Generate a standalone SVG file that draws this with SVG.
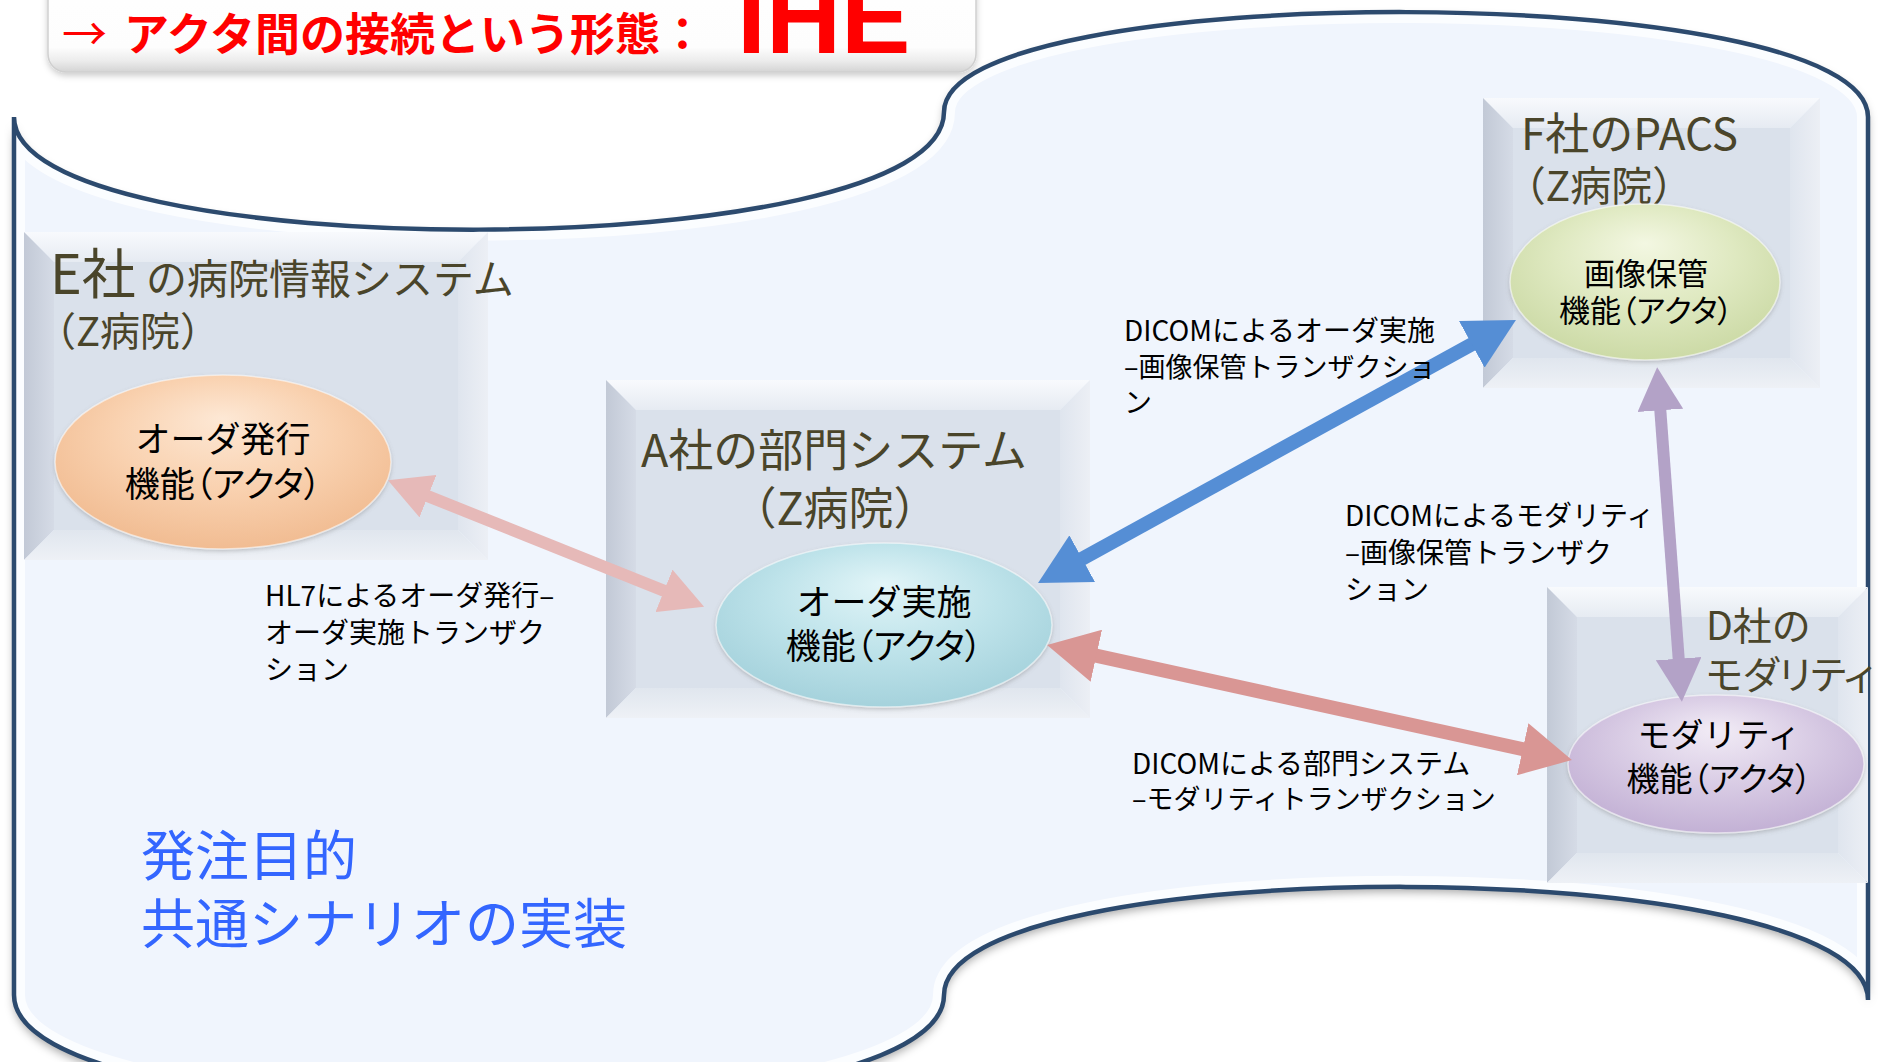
<svg xmlns="http://www.w3.org/2000/svg" width="1894" height="1062" viewBox="0 0 1894 1062">
<style>
.jp{font-family:"Noto Sans CJK JP","Noto Sans",sans-serif}
.pa{font-feature-settings:"palt" 1}
.ttl{fill:#4A452A}
.act{fill:#000000;text-anchor:middle}
.lbl{fill:#000000;font-size:28px}
.blue{fill:#3366FF;font-size:54px}
.bt{fill:url(#gTop)}
.bl{fill:url(#gLeft)}
.br{fill:url(#gRight)}
.bb{fill:url(#gBot)}
.bf{fill:#DAE1EB}
.ell{stroke:#FFFFFF;stroke-opacity:0.55;stroke-width:1.5;filter:url(#eshadow)}
.cn{fill:none;stroke-linecap:butt}
</style>
<defs>
<linearGradient id="gTop" x1="0" y1="0" x2="0" y2="1"><stop offset="0" stop-color="#F8FAFD"/><stop offset="1" stop-color="#E6EBF2"/></linearGradient>
<linearGradient id="gLeft" x1="0" y1="0" x2="1" y2="0"><stop offset="0" stop-color="#C2C9D6"/><stop offset="1" stop-color="#D5DBE6"/></linearGradient>
<linearGradient id="gRight" x1="0" y1="0" x2="1" y2="0"><stop offset="0" stop-color="#DFE5EE"/><stop offset="1" stop-color="#ECEFF5"/></linearGradient>
<linearGradient id="gBot" x1="0" y1="0" x2="0" y2="1"><stop offset="0" stop-color="#E0E6EE"/><stop offset="1" stop-color="#EEF1F6"/></linearGradient>
<linearGradient id="gTitle" x1="0" y1="0" x2="0" y2="1"><stop offset="0" stop-color="#FFFFFF"/><stop offset="0.78" stop-color="#FDFDFD"/><stop offset="0.9" stop-color="#ECECEC"/><stop offset="1" stop-color="#D4D4D4"/></linearGradient>
<radialGradient id="gPeach" cx="0.5" cy="0.4" r="0.6" fx="0.5" fy="0.25"><stop offset="0" stop-color="#FDE8D5"/><stop offset="0.55" stop-color="#F9D1AF"/><stop offset="1" stop-color="#F1BC92"/></radialGradient>
<radialGradient id="gCyan" cx="0.5" cy="0.4" r="0.6" fx="0.5" fy="0.25"><stop offset="0" stop-color="#E2F5F8"/><stop offset="0.55" stop-color="#BEE3EA"/><stop offset="1" stop-color="#A5D2DC"/></radialGradient>
<radialGradient id="gGreen" cx="0.5" cy="0.4" r="0.6" fx="0.5" fy="0.25"><stop offset="0" stop-color="#F3F7E2"/><stop offset="0.55" stop-color="#DFE9C1"/><stop offset="1" stop-color="#CCDAA6"/></radialGradient>
<radialGradient id="gLav" cx="0.5" cy="0.4" r="0.6" fx="0.5" fy="0.25"><stop offset="0" stop-color="#F2ECF6"/><stop offset="0.55" stop-color="#D8CBE4"/><stop offset="1" stop-color="#C3B1D5"/></radialGradient>
<filter id="shshadow" x="-5%" y="-5%" width="110%" height="115%"><feDropShadow dx="0" dy="5" stdDeviation="5" flood-color="#000000" flood-opacity="0.35"/></filter>
<filter id="eshadow" x="-10%" y="-10%" width="120%" height="130%"><feDropShadow dx="0" dy="2" stdDeviation="2" flood-color="#6A6A6A" flood-opacity="0.35"/></filter>
<filter id="tshadow" x="-5%" y="-20%" width="110%" height="140%"><feDropShadow dx="0" dy="3" stdDeviation="3" flood-color="#000000" flood-opacity="0.2"/></filter>
<clipPath id="shapeClip"><path d="M14,117 C14,268 944,268 944,112 C944,-22 1868,-22 1868,117 L1868,1000 C1868,850 944,850 944,995 C944,1145 14,1145 14,995 Z"/></clipPath>
<marker id="ahPink" viewBox="0 0 10 10" refX="1" refY="5" markerWidth="3.6" markerHeight="3.8" orient="auto-start-reverse" preserveAspectRatio="none"><path d="M0,0 L10,5 L0,10 Z" fill="#E6B9B8"/></marker>
<marker id="ahBlue" viewBox="0 0 10 10" refX="1" refY="5" markerWidth="3.6" markerHeight="3.8" orient="auto-start-reverse" preserveAspectRatio="none"><path d="M0,0 L10,5 L0,10 Z" fill="#558ED5"/></marker>
<marker id="ahPurple" viewBox="0 0 10 10" refX="1" refY="5" markerWidth="3.6" markerHeight="3.8" orient="auto-start-reverse" preserveAspectRatio="none"><path d="M0,0 L10,5 L0,10 Z" fill="#B3A2C7"/></marker>
<marker id="ahSalmon" viewBox="0 0 10 10" refX="1" refY="5" markerWidth="3.6" markerHeight="3.8" orient="auto-start-reverse" preserveAspectRatio="none"><path d="M0,0 L10,5 L0,10 Z" fill="#D99694"/></marker>
</defs>

<rect x="0" y="0" width="1894" height="1062" fill="#FFFFFF"/>

<g id="wave-background">
<path d="M14,117 C14,268 944,268 944,112 C944,-22 1868,-22 1868,117 L1868,1000 C1868,850 944,850 944,995 C944,1145 14,1145 14,995 Z" fill="#F0F5FD" filter="url(#shshadow)"/>
<path d="M14,117 C14,268 944,268 944,112 C944,-22 1868,-22 1868,117 L1868,1000 C1868,850 944,850 944,995 C944,1145 14,1145 14,995 Z" fill="none" stroke="#FFFFFF" stroke-width="22" stroke-opacity="0.75" clip-path="url(#shapeClip)"/>
<path d="M14,117 C14,268 944,268 944,112 C944,-22 1868,-22 1868,117 L1868,1000 C1868,850 944,850 944,995 C944,1145 14,1145 14,995 Z" fill="none" stroke="#2C4A6E" stroke-width="4.5"/>
</g>

<g id="title">
<rect x="48" y="-40" width="928" height="112" rx="18" fill="url(#gTitle)" stroke="#CFCFCF" stroke-width="1.5" filter="url(#tshadow)"/>
<text class="jp" fill="#FF0000" font-size="45" y="51"><tspan x="62">→</tspan><tspan x="124" font-weight="bold">アクタ間の接続という形態：</tspan></text>
<text fill="#FF0000" font-family="Liberation Sans, Arial, sans-serif" font-weight="bold" font-size="104" x="737" y="53">IHE</text>
</g>

<g id="node-e-hospital-system">
<polygon class="bt" points="24,232 488,232 458,262 54,262"/>
<polygon class="bl" points="24,232 54,262 54,530 24,560"/>
<polygon class="br" points="488,232 488,560 458,530 458,262"/>
<polygon class="bb" points="24,560 54,530 458,530 488,560"/>
<rect class="bf" x="54" y="262" width="404" height="268"/>
<text class="jp ttl" y="294"><tspan x="50" font-size="54">E社</tspan><tspan x="146" font-size="41">の病院情報システム</tspan></text>
<text class="jp ttl" font-size="40" x="128" y="346" text-anchor="middle">（Z病院）</text>
<g id="actor-order-placer">
<ellipse class="ell" cx="223" cy="462" rx="168" ry="87" fill="url(#gPeach)"/>
<text class="jp act" font-size="35" x="223" y="452">オーダ発行</text>
<text class="jp act pa" font-size="35" x="223" y="497">機能（アクタ）</text>
</g>
</g>

<g id="node-a-department-system">
<polygon class="bt" points="606,380 1090,380 1060,410 636,410"/>
<polygon class="bl" points="606,380 636,410 636,688 606,718"/>
<polygon class="br" points="1090,380 1090,718 1060,688 1060,410"/>
<polygon class="bb" points="606,718 636,688 1060,688 1090,718"/>
<rect class="bf" x="636" y="410" width="424" height="278"/>
<text class="jp ttl" font-size="45" x="834" y="467" text-anchor="middle">A社の部門システム</text>
<text class="jp ttl" font-size="45" x="835" y="525" text-anchor="middle">（Z病院）</text>
<g id="actor-order-filler">
<ellipse class="ell" cx="884" cy="625" rx="168" ry="82" fill="url(#gCyan)"/>
<text class="jp act" font-size="35" x="884" y="615">オーダ実施</text>
<text class="jp act pa" font-size="35" x="884" y="659">機能（アクタ）</text>
</g>
</g>

<g id="node-f-pacs">
<polygon class="bt" points="1483,98 1820,98 1790,128 1513,128"/>
<polygon class="bl" points="1483,98 1513,128 1513,358 1483,388"/>
<polygon class="br" points="1820,98 1820,388 1790,358 1790,128"/>
<polygon class="bb" points="1483,388 1513,358 1790,358 1820,388"/>
<rect class="bf" x="1513" y="128" width="277" height="230"/>
<text class="jp ttl" font-size="44" x="1521" y="150">F社のPACS</text>
<text class="jp ttl" font-size="41" x="1599" y="201" text-anchor="middle">（Z病院）</text>
<g id="actor-image-archive">
<ellipse class="ell" cx="1645" cy="282" rx="135" ry="78" fill="url(#gGreen)"/>
<text class="jp act" font-size="31" x="1646" y="285">画像保管</text>
<text class="jp act pa" font-size="31" x="1646" y="322">機能（アクタ）</text>
</g>
</g>

<g id="node-d-modality">
<polygon class="bt" points="1547,587 1868,587 1838,617 1577,617"/>
<polygon class="bl" points="1547,587 1577,617 1577,853 1547,883"/>
<polygon class="br" points="1868,587 1868,883 1838,853 1838,617"/>
<polygon class="bb" points="1547,883 1577,853 1838,853 1868,883"/>
<rect class="bf" x="1577" y="617" width="261" height="236"/>
<text class="jp ttl" font-size="39" x="1706" y="640">D社の</text>
<text class="jp ttl pa" font-size="39" x="1706" y="689">モダリティ</text>
<g id="actor-modality">
<ellipse class="ell" cx="1716" cy="764" rx="148" ry="69" fill="url(#gLav)"/>
<text class="jp act" font-size="33" x="1719" y="747">モダリティ</text>
<text class="jp act pa" font-size="33" x="1719" y="791">機能（アクタ）</text>
</g>
</g>

<g id="connectors">
<line class="cn" x1="424" y1="494.6" x2="668" y2="592.4" stroke="#E6B9B8" stroke-width="12" marker-start="url(#ahPink)" marker-end="url(#ahPink)"/>
<line class="cn" x1="1077.8" y1="561.1" x2="1476.2" y2="341.9" stroke="#558ED5" stroke-width="14" marker-start="url(#ahBlue)" marker-end="url(#ahBlue)"/>
<line class="cn" x1="1660" y1="406" x2="1679" y2="663" stroke="#B3A2C7" stroke-width="12" marker-start="url(#ahPurple)" marker-end="url(#ahPurple)"/>
<line class="cn" x1="1091.4" y1="654.7" x2="1527.6" y2="750.3" stroke="#D99694" stroke-width="14" marker-start="url(#ahSalmon)" marker-end="url(#ahSalmon)"/>
<g id="connector-labels">
<text class="jp lbl" x="265"><tspan x="265" y="606">HL7によるオーダ発行–</tspan><tspan x="265" y="643">オーダ実施トランザク</tspan><tspan x="265" y="680">ション</tspan></text>
<text class="jp lbl" x="1124"><tspan x="1124" y="341">DICOMによるオーダ実施</tspan><tspan x="1124" y="377" font-size="27">–画像保管トランザクショ</tspan><tspan x="1124" y="413">ン</tspan></text>
<text class="jp lbl" x="1345"><tspan x="1345" y="526">DICOMによるモダリティ</tspan><tspan x="1345" y="563">–画像保管トランザク</tspan><tspan x="1345" y="600">ション</tspan></text>
<text class="jp lbl" x="1132"><tspan x="1132" y="774">DICOMによる部門システム</tspan><tspan x="1132" y="809" font-size="27">–モダリティトランザクション</tspan></text>
</g>
</g>

<g id="note">
<text class="jp blue" x="141" y="876">発注目的</text>
<text class="jp blue" x="141" y="944">共通シナリオの実装</text>
</g>
</svg>
